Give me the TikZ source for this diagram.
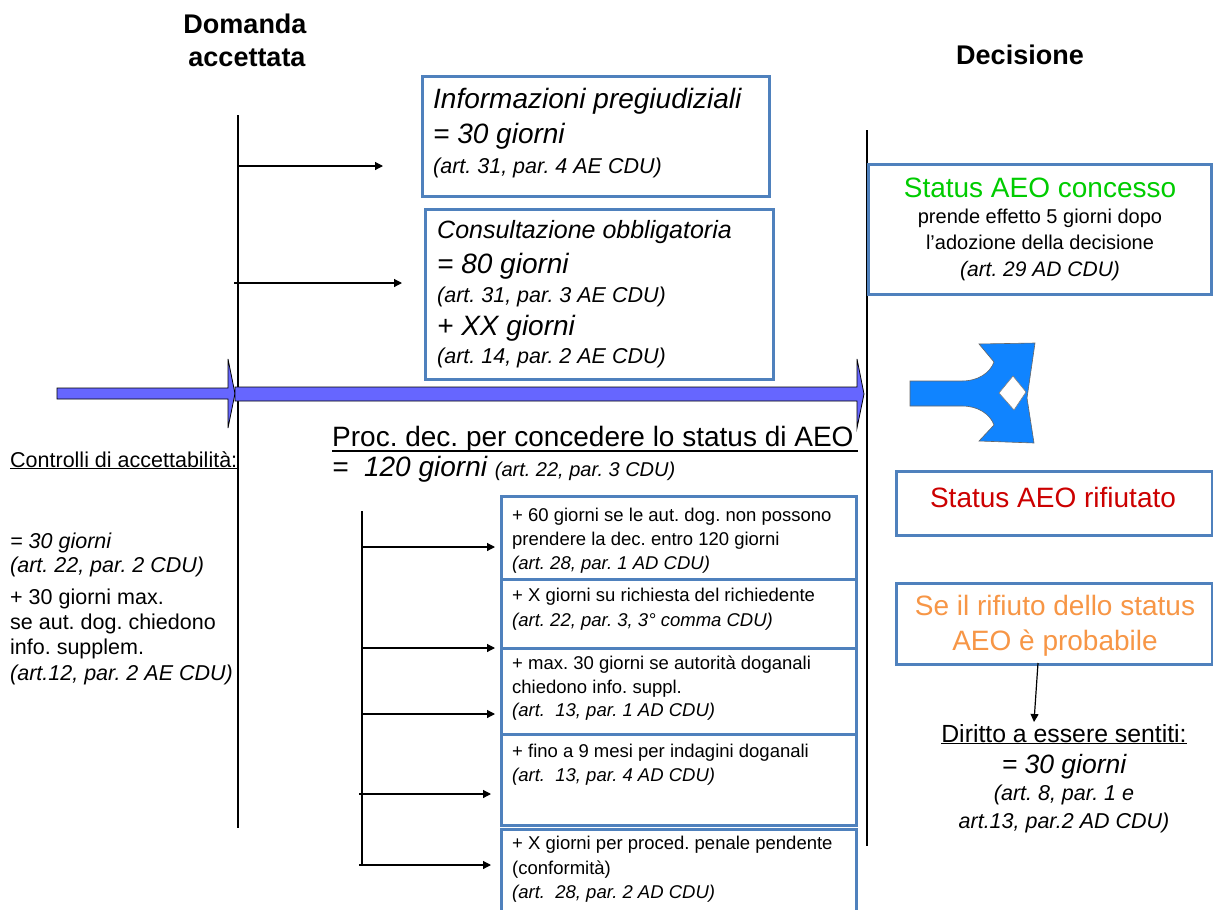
\documentclass[tikz,border=0pt]{standalone}
\usepackage{fontspec}
\setmainfont{Liberation Sans}
\usetikzlibrary{arrows.meta}
\definecolor{boxblue}{RGB}{79,129,189}
\definecolor{arrowblue}{RGB}{102,102,255}
\definecolor{forkblue}{RGB}{16,132,255}
\definecolor{okgreen}{RGB}{0,204,0}
\definecolor{nored}{RGB}{204,0,0}
\definecolor{warnorange}{RGB}{247,150,70}
\newcommand\fsz[1]{\fontsize{#1}{#1}\selectfont}
\newcommand\mkbox[5]{\node[box, minimum width={#4pt-#2pt}, minimum height={#5pt-#3pt}] (#1) at (#2,#3) {};}
\frenchspacing
\begin{document}
\begin{tikzpicture}[x=1pt,y=-1pt,
  box/.style={draw=boxblue, line width=2.5pt, anchor=north west, inner sep=0pt},
  lt/.style={anchor=base west, inner sep=0pt, font=\frenchspacing},
  ct/.style={anchor=base, inner sep=0pt, font=\frenchspacing},
  arr/.style={line width=1.2pt, -{Triangle[length=8pt,width=8pt]}},
  tl/.style={line width=1.2pt},
  bigarrow/.style={fill=arrowblue, draw=black, line width=0.8pt},
]
\path[use as bounding box] (0,0) rectangle (1213,910);
\clip (0,0) rectangle (1213,910);
\fill[white] (0,0) rectangle (1213,910);

% headings
\node[ct] (h1) at (245,33) {\fsz{27}\bfseries Domanda};
\node[ct] (h2) at (247,66) {\fsz{27}\bfseries accettata};
\node[ct] (h3) at (1020,64) {\fsz{27}\bfseries Decisione};

% timelines
\coordinate (L1t) at (238,115); \coordinate (L1b) at (238,828);
\draw[tl] (L1t) -- (L1b);
\coordinate (L2t) at (867,130); \coordinate (L2b) at (867,846);
\draw[tl] (L2t) -- (L2b);
\coordinate (L3t) at (362,511); \coordinate (L3b) at (362,865);
\draw[tl] (L3t) -- (L3b);

% top boxes
\mkbox{b1}{421}{75}{768}{195}
\mkbox{b2}{424}{208}{772}{378}
\node[lt] (t11) at (433,108) {\fsz{28}\itshape Informazioni pregiudiziali};
\node[lt] (t12) at (433,143) {\fsz{28}\itshape = 30 giorni};
\node[lt] (t13) at (433,173) {\fsz{21.5}\itshape (art. 31, par. 4 AE CDU)};
\node[lt] (t21) at (437,238) {\fsz{25}\itshape Consultazione obbligatoria};
\node[lt] (t22) at (437,273) {\fsz{28}\itshape = 80 giorni};
\node[lt] (t23) at (437,302) {\fsz{21.5}\itshape (art. 31, par. 3 AE CDU)};
\node[lt] (t24) at (437,335) {\fsz{28}\itshape + XX giorni};
\node[lt] (t25) at (437,363) {\fsz{21.5}\itshape (art. 14, par. 2 AE CDU)};

\coordinate (a1s) at (238,166); \coordinate (a1e) at (383,166);
\draw[arr] (a1s) -- (a1e);
\coordinate (a2s) at (234,283); \coordinate (a2e) at (402,283);
\draw[arr] (a2s) -- (a2e);

% big timeline arrows
\draw[bigarrow] (57,388) -- (228,388) -- (228,359) -- (235,393.5) -- (228,428) -- (228,399) -- (57,399) -- cycle;
\draw[bigarrow] (235,387) -- (857,387) -- (857,359) -- (864,394) -- (857,428) -- (857,401) -- (235,401) -- cycle;

% fork arrow
\draw[fill=forkblue, draw=black!60, line width=0.6pt]
  (910,381) -- (962,381) .. controls (978,381) and (990,373) .. (994,362)
  -- (979,344) -- (1035,343) -- (1027,398) -- (1034,443) -- (979,441)
  -- (994,425) .. controls (990,414) and (978,406) .. (962,406) -- (910,406) -- cycle;
\draw[fill=white, draw=black!50, line width=0.6pt] (999,393) -- (1013,376) -- (1026,392) -- (1014,410) -- cycle;

% procedure text
\node[lt] (p1) at (332,446) {\fsz{28}Proc. dec. per concedere lo status di AEO};
\coordinate (u1s) at (332,451); \coordinate (u1e) at (858,451);
\draw[line width=1.3pt] (u1s) -- (u1e);
\node[lt] (p2) at (332,476) {\fsz{28}\itshape =~ 120 giorni {\fsz{20}(art. 22, par. 3 CDU)}};

% left text
\node[lt] (c1) at (10,467) {\fsz{21.5}\underline{Controlli di accettabilità:}};
\node[lt] (c2) at (10,548) {\fsz{21.5}\itshape = 30 giorni};
\node[lt] (c3) at (10,572) {\fsz{21.5}\itshape (art. 22, par. 2 CDU)};
\node[lt] (c4) at (10,604) {\fsz{21.5}+ 30 giorni max.};
\node[lt] (c5) at (10,629) {\fsz{21.5}se aut. dog. chiedono};
\node[lt] (c6) at (10,654) {\fsz{21.5}info. supplem.};
\node[lt] (c7) at (10,680) {\fsz{21.5}\itshape (art.12, par. 2 AE CDU)};

% stacked boxes
\mkbox{s1}{500}{495}{855}{578}
\mkbox{s2}{500}{578}{855}{647}
\mkbox{s3}{500}{647}{855}{733}
\mkbox{s4}{500}{733}{855}{824}
\mkbox{s5}{500}{828}{855}{930}
\node[lt] (s11) at (512,521) {\fsz{18.5}+ 60 giorni se le aut. dog. non possono};
\node[lt] (s12) at (512,545) {\fsz{18.5}prendere la dec. entro 120 giorni};
\node[lt] (s13) at (512,569) {\fsz{18.5}\itshape (art. 28, par. 1 AD CDU)};
\node[lt] (s21) at (512,601) {\fsz{18.5}+ X giorni su richiesta del richiedente};
\node[lt] (s22) at (512,626) {\fsz{18.5}\itshape (art. 22, par. 3, 3° comma CDU)};
\node[lt] (s31) at (512,669) {\fsz{18.5}+ max. 30 giorni se autorità doganali};
\node[lt] (s32) at (512,693) {\fsz{18.5}chiedono info. suppl.};
\node[lt] (s33) at (512,716) {\fsz{18.5}\itshape (art.~~13, par. 1 AD CDU)};
\node[lt] (s41) at (512,757) {\fsz{18.5}+ fino a 9 mesi per indagini doganali};
\node[lt] (s42) at (512,781) {\fsz{18.5}\itshape (art.~~13, par. 4 AD CDU)};
\node[lt] (s51) at (512,849) {\fsz{18.5}+ X giorni per proced. penale pendente};
\node[lt] (s52) at (512,874) {\fsz{18.5}(conformità)};
\node[lt] (s53) at (512,898) {\fsz{18.5}\itshape (art.~~28, par. 2 AD CDU)};

\coordinate (k1s) at (362,547); \coordinate (k1e) at (495,547);
\coordinate (k2s) at (362,648); \coordinate (k2e) at (495,648);
\coordinate (k3s) at (362,714); \coordinate (k3e) at (495,714);
\coordinate (k4s) at (359,794); \coordinate (k4e) at (491,794);
\coordinate (k5s) at (359,865); \coordinate (k5e) at (491,865);
\foreach \k in {1,...,5} {\draw[arr] (k\k s) -- (k\k e);}

% right side
\mkbox{r1}{867}{163}{1210}{293}
\node[ct] (r11) at (1040,197) {\fsz{28}\color{okgreen}Status AEO concesso};
\node[ct] (r12) at (1040,223) {\fsz{20}prende effetto 5 giorni dopo};
\node[ct] (r13) at (1040,249) {\fsz{20}l'adozione della decisione};
\node[ct] (r14) at (1040,276) {\fsz{21}\itshape (art. 29 AD CDU)};

\mkbox{r2}{895}{470}{1211}{534}
\node[ct] (r21) at (1053,507) {\fsz{28}\color{nored}Status AEO rifiutato};

\mkbox{r3}{895}{582}{1211}{663}
\node[ct] (r31) at (1055,615) {\fsz{28}\color{warnorange}Se il rifiuto dello status};
\node[ct] (r32) at (1055,650) {\fsz{28}\color{warnorange}AEO è probabile};

\node[ct] (d1) at (1064,742) {\fsz{24.8}\underline{Diritto a essere sentiti:}};
\node[ct] (d2) at (1064,773) {\fsz{26.5}\itshape = 30 giorni};
\node[ct] (d3) at (1064,800) {\fsz{21.5}\itshape (art. 8, par. 1 e};
\node[ct] (d4) at (1064,828) {\fsz{21.5}\itshape art.13, par.2 AD CDU)};
\coordinate (e1s) at (1038,663); \coordinate (e1e) at (1034,722);
\draw[arr] (e1s) -- (e1e);
\end{tikzpicture}
\end{document}
